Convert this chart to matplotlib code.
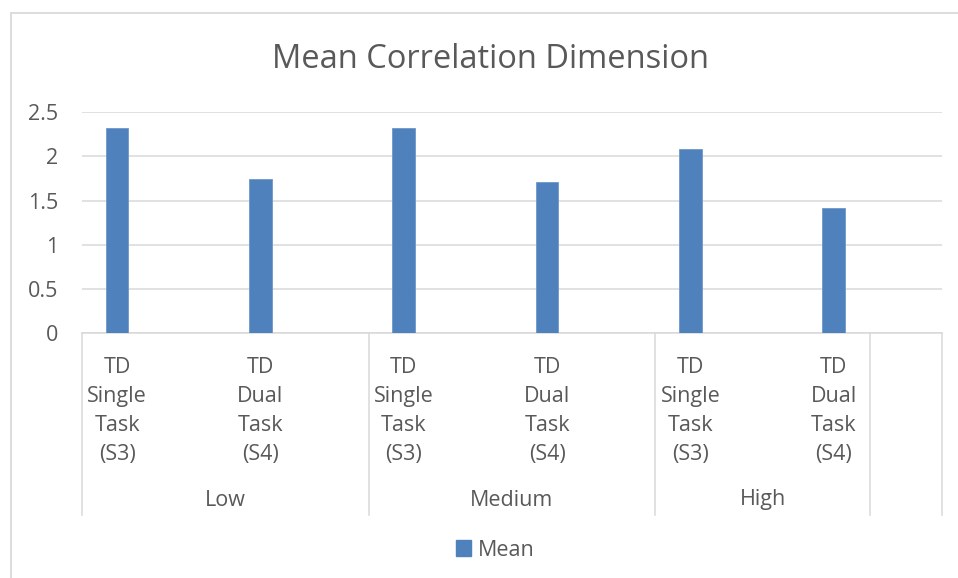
import numpy as np
import matplotlib.pyplot as plt
from matplotlib.patches import Rectangle
import matplotlib.transforms as mtrans

# data
conditions = ['TD\nSingle\nTask\n(S3)', 'TD\nDual\nTask\n(S4)'] * 3
levels = ['Low', 'Medium', 'High']
mean_vals = [2.32, 1.74, 2.32, 1.71, 2.08, 1.42]
yticks = [0, 0.5, 1, 1.5, 2, 2.5]

plt.rcParams['font.family'] = ['Open Sans', 'DejaVu Sans']
txt = '#595959'
grid = '#D9D9D9'
blue = '#4F81BD'

W, H = 958, 578
fig = plt.figure(figsize=(W/100, H/100), dpi=100)
ax = fig.add_axes([82/W, 1-333.3/H, 860/W, 221.3/H])

# bars sit a quarter into each category slot (excel layout)
xpos = np.arange(len(mean_vals)) + 0.245
ax.bar(xpos, mean_vals, width=0.158, color=blue, edgecolor='#6F97C9', linewidth=0.6, zorder=3)

ax.set_xlim(0, 6)
ax.set_ylim(0, 2.5)
ax.set_yticks(yticks)
ax.set_yticklabels(['0', '0.5', '1', '1.5', '2', '2.5'])
ax.tick_params(axis='y', length=0, pad=17, labelsize=15.5, labelcolor=txt)
ax.set_xticks([])
ax.yaxis.grid(True, color=grid, linewidth=1.1, zorder=0)
for s in ['left', 'right', 'top']:
    ax.spines[s].set_visible(False)
ax.spines['bottom'].set_color(grid)
ax.spines['bottom'].set_linewidth(1.1)

# category labels
tr = mtrans.blended_transform_factory(ax.transData, fig.transFigure)
for x, lab in zip(xpos, conditions):
    ax.text(x, 1-357/H, lab, transform=tr, ha='center', va='top',
            fontsize=15.5, color=txt, linespacing=1.5)

# group labels and separators
group_centers = [1, 3, 4.75]
for x, lab in zip(group_centers, levels):
    ax.text(x, 1-500/H, lab, transform=tr, ha='center', va='center',
            fontsize=15.5, color=txt)
for x in [0, 2, 4, 5.5, 6]:
    ax.plot([x, x], [1-333.3/H, 1-515/H], transform=tr, color=grid,
            linewidth=1.1, clip_on=False)

fig.text(491/W, 1-59/H, 'Mean Correlation Dimension', ha='center', va='center',
         fontsize=23.5, color=txt)

leg = fig.legend(handles=[Rectangle((0, 0), 1, 1, color=blue)], labels=['Mean'],
                 loc='center', bbox_to_anchor=(495/W, 1-550/H), frameon=False,
                 handlelength=0.7, handleheight=0.7, handletextpad=0.3,
                 fontsize=15.5, labelcolor=txt)

# chart border (cut off at right and bottom)
fig.add_artist(Rectangle((11/W, -0.1), 1.2, 1-13/H+0.1, transform=fig.transFigure,
                         fill=False, edgecolor=grid, linewidth=1.3))

fig.savefig('out.png', dpi=100)
